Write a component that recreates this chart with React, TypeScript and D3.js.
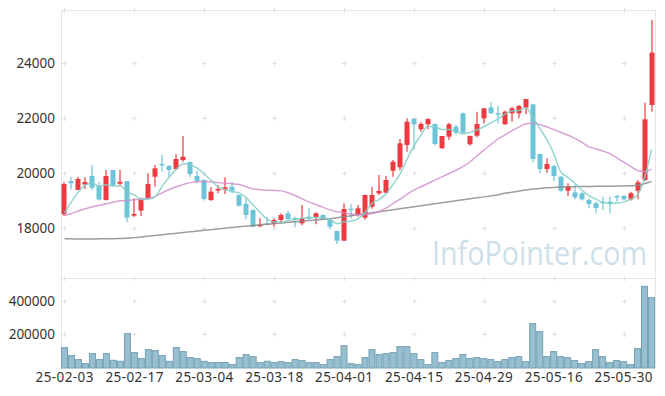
import React, { useLayoutEffect, useRef, useState } from "react";
import * as d3 from "d3";

const dates = [
  "25-02-03","25-02-04","25-02-05","25-02-06","25-02-07","25-02-10","25-02-11","25-02-12","25-02-13","25-02-14",
  "25-02-17","25-02-18","25-02-19","25-02-20","25-02-21","25-02-24","25-02-25","25-02-26","25-02-27","25-02-28",
  "25-03-04","25-03-05","25-03-06","25-03-07","25-03-10","25-03-11","25-03-12","25-03-13","25-03-14","25-03-17",
  "25-03-18","25-03-19","25-03-20","25-03-21","25-03-24","25-03-25","25-03-26","25-03-27","25-03-28","25-03-31",
  "25-04-01","25-04-02","25-04-03","25-04-04","25-04-07","25-04-08","25-04-09","25-04-10","25-04-11","25-04-14",
  "25-04-15","25-04-16","25-04-17","25-04-18","25-04-21","25-04-22","25-04-23","25-04-24","25-04-25","25-04-28",
  "25-04-29","25-04-30","25-05-02","25-05-07","25-05-08","25-05-09","25-05-12","25-05-13","25-05-14","25-05-15",
  "25-05-16","25-05-19","25-05-20","25-05-21","25-05-22","25-05-23","25-05-26","25-05-27","25-05-28","25-05-29",
  "25-05-30","25-06-02","25-06-04","25-06-05","25-06-09"
];

const open = [
  18500,19709,19382,19582,19891,19527,19018,20109,19610,19709,
  18450,18630,19080,19865,20330,20254,20145,20472,20400,19891,
  19745,19018,19380,19390,19500,19200,18873,18654,18073,18170,
  18145,18291,18534,18370,18170,18411,18389,18473,18291,17891,
  17538,18700,18473,18375,18774,19262,19283,20083,20207,21018,
  21963,21590,21770,21781,20900,21320,21683,22170,21043,21356,
  21990,22389,22180,21770,22170,22170,22374,22498,20690,20145,
  20254,19865,19356,19298,19262,19018,18898,18956,18956,19163,
  19163,19043,19356,19745,22472
];
const high = [
  19670,19865,19865,19843,20291,19670,20109,20109,20109,19709,
  19080,19100,19989,20290,20654,20290,20680,21345,20420,20083,
  19780,19480,19563,19843,19683,19220,19080,18680,18352,18411,
  18352,18534,18630,18411,18836,18716,18570,18500,18300,17900,
  18898,18872,18836,19220,19500,19927,19890,20472,21236,21989,
  21989,21850,21989,21800,21345,21830,21741,22200,21360,22229,
  22352,22570,22436,22260,22410,22472,22690,22498,20700,20534,
  20300,19880,19625,19590,19300,19080,18956,19138,19138,19200,
  19200,19320,19745,22556,25563
];
const low = [
  18440,19407,19380,19418,19382,19000,19000,19500,19550,18218,
  18400,18436,19054,19500,20047,19865,20100,20400,19850,19625,
  19000,18982,19260,19236,19260,18780,18316,18020,18025,18109,
  18047,18170,18300,18025,18100,18300,18134,18280,17950,17418,
  17538,18352,18411,18300,18700,19200,19250,19865,20100,20774,
  20836,21500,21590,21000,20880,21200,21400,21450,21000,21300,
  21800,22150,21800,21750,21865,21989,22134,20389,19989,20010,
  19720,19300,19163,19050,19000,18716,18534,18654,18534,18956,
  19000,19000,19043,19700,22229
];
const close = [
  19600,19625,19782,19673,19465,19036,19891,19563,19680,18375,
  18509,19054,19600,20171,20310,20109,20509,20590,19963,19709,
  19054,19320,19418,19480,19356,18811,18473,18047,18120,18145,
  18291,18473,18327,18340,18352,18338,18534,18316,18047,17538,
  18691,18680,18716,19200,19200,19345,19745,20410,21080,21865,
  21770,21781,21963,21054,21345,21770,21465,21465,21345,21781,
  22352,22170,22160,22229,22352,22436,22690,20509,20145,20327,
  19891,19356,19527,19116,19043,18873,18727,18898,18920,19116,
  19043,19262,19662,21952,24374
];
const volume = [
  121400,73800,50000,26000,85700,50000,85700,45800,39900,204700,
  91700,56000,109500,103500,73800,39900,121400,97600,61900,56000,
  39900,32100,32100,32100,20200,61900,79800,67800,32100,39900,
  32100,38000,32100,50000,44000,32100,32100,20200,50000,67800,
  133300,26000,20200,61900,109500,79800,85700,91700,127400,127400,
  85700,50000,20200,91700,32100,44000,56000,79800,56000,61900,
  56000,50000,38000,50000,61900,67800,38000,264300,216700,67800,
  97600,67800,61900,44000,26000,38000,109500,67800,32100,44000,
  38000,20200,115500,486300,419000
];
const ma5 = [
  18540,18956,19320,19563,19629,19516,19569,19526,19527,19309,
  19204,19036,19044,19142,19529,19849,20140,20338,20296,20176,
  19965,19727,19493,19396,19326,19277,19108,18833,18561,18319,
  18215,18215,18271,18315,18357,18366,18378,18376,18317,18155,
  18225,18254,18334,18565,18897,19028,19241,19580,19956,20489,
  20974,21381,21692,21687,21583,21583,21519,21420,21478,21565,
  21682,21823,21962,22138,22253,22269,22373,22043,21626,21221,
  20712,20046,19849,19643,19387,19183,19057,18931,18892,18907,
  18941,19048,19200,19807,20858
];
const ma20 = [
  18440,18530,18620,18700,18770,18830,18880,18940,18990,19000,
  19030,19060,19080,19150,19280,19400,19500,19580,19650,19680,
  19690,19680,19650,19630,19610,19580,19500,19420,19390,19375,
  19365,19350,19280,19180,19060,18950,18850,18750,18660,18590,
  18550,18510,18480,18490,18530,18600,18720,18890,19050,19220,
  19380,19500,19620,19740,19860,19980,20100,20230,20400,20620,
  20830,21030,21230,21380,21530,21670,21790,21810,21760,21680,
  21580,21480,21380,21260,21120,20960,20880,20800,20710,20560,
  20400,20250,20090,20050,20140
];
const ma60 = [
  17610,17605,17600,17600,17600,17605,17610,17612,17618,17625,
  17650,17677,17704,17730,17757,17783,17810,17836,17862,17889,
  17915,17941,17968,17994,18021,18047,18070,18092,18115,18137,
  18160,18182,18205,18227,18250,18272,18295,18317,18340,18376,
  18412,18448,18484,18520,18556,18592,18628,18664,18700,18736,
  18772,18808,18844,18880,18916,18952,18988,19024,19060,19096,
  19132,19168,19204,19260,19300,19340,19380,19415,19440,19460,
  19475,19488,19497,19503,19508,19512,19515,19518,19520,19524,
  19528,19536,19555,19610,19690
];
const priceTicks = [18000, 20000, 22000, 24000];
const volumeTicks = [200000, 400000];
const labelEvery = 10;
const watermark = "InfoPointer.com";

const W = 665, H = 396;
const L = 61, R = 655, T = 10, MID = 278, VB = 368;
const UP = "#ec3a40", DOWN = "#6cc4d8";
const FONT = "'Noto Sans', sans-serif";

export default function App() {
  const wmRef = useRef<SVGTextElement>(null);
  const [wmScale, setWmScale] = useState(0.87);
  useLayoutEffect(() => {
    if (wmRef.current) {
      const w = wmRef.current.getComputedTextLength();
      if (w > 0) setWmScale(215 / w);
    }
  }, []);

  const idx = dates.map((_, i) => i);
  const x = d3.scaleBand<number>().domain(idx).range([L, R]).padding(0);
  const bw = x.bandwidth();
  const cx = (i: number) => (x(i) as number) + bw / 2;
  const y = d3.scaleLinear().domain([16182, 25927]).range([MID, T]);
  const yv = d3.scaleLinear().domain([0, 536000]).range([VB, MID]);
  const tickIdx = idx.filter((i) => i % labelEvery === 0);

  const line = (arr: number[]) =>
    d3.line<number>().x((_, i) => cx(i)).y((v) => y(v)).curve(d3.curveMonotoneX)(arr) || "";

  const cross = (px: number, py: number, k: string) => (
    <g key={k} stroke="#e2e2e2" strokeWidth={1}>
      <line x1={px - 2.5} x2={px + 2.5} y1={py} y2={py} />
      <line x1={px} x2={px} y1={py - 2.5} y2={py + 2.5} />
    </g>
  );

  const bodyW = 5;

  return (
    <div style={{ position: "fixed", left: 0, top: 0 }}>
      <svg width={W} height={H} style={{ display: "block", background: "#fff" }}>
        <g stroke="#e6e6e6" strokeWidth={1} fill="none">
          <line x1={L + 0.5} x2={L + 0.5} y1={T} y2={VB} />
          <line x1={R + 0.5} x2={R + 0.5} y1={T} y2={VB} />
          <line x1={L} x2={R + 1} y1={T + 0.5} y2={T + 0.5} />
          <line x1={L} x2={R + 1} y1={MID + 0.5} y2={MID + 0.5} />
        </g>
        {tickIdx.map((i) =>
          priceTicks.map((t) => cross(Math.round(cx(i)) + 0.5, Math.round(y(t)) + 0.5, `p${i}-${t}`))
        )}
        {tickIdx.map((i) =>
          volumeTicks.map((t) => cross(Math.round(cx(i)) + 0.5, Math.round(yv(t)) + 0.5, `v${i}-${t}`))
        )}
        {tickIdx.map((i) => cross(Math.round(cx(i)) + 0.5, T + 0.5, `t${i}`))}
        {tickIdx.map((i) => cross(Math.round(cx(i)) + 0.5, MID + 0.5, `m${i}`))}

        <g transform={`translate(432,265) scale(${wmScale},1)`}>
          <text ref={wmRef} x={0} y={0} fontFamily="'Open Sans', sans-serif" fontSize={33}
            fill="#cddfe8">{watermark}</text>
        </g>

        {volume.map((v, i) => (
          <rect key={`vb${i}`} x={(x(i) as number) + 0.5} y={yv(v)} width={bw - 1}
            height={VB - yv(v)} fill="#97bfcf" stroke="#74a2b6" strokeWidth={1} />
        ))}

        {close.map((c, i) => {
          const o = open[i];
          const up = c >= o;
          const col = up ? UP : DOWN;
          const top = y(Math.max(o, c));
          const bot = y(Math.min(o, c));
          const px = Math.round(cx(i));
          return (
            <g key={`c${i}`}>
              <line x1={px} x2={px} y1={y(high[i])} y2={y(low[i])} stroke={col} strokeWidth={1.2} />
              <rect x={px - bodyW / 2} y={top} width={bodyW} height={Math.max(1.5, bot - top)} fill={col} />
            </g>
          );
        })}

        <path d={line(ma60)} fill="none" stroke="#8c8c8c" strokeOpacity={0.85} strokeWidth={1.5} />
        <path d={line(ma20)} fill="none" stroke="#cd8ccd" strokeOpacity={0.8} strokeWidth={1.5} />
        <path d={line(ma5)} fill="none" stroke="#84cfc5" strokeOpacity={0.85} strokeWidth={1.5} />

        {priceTicks.map((t) => (
          <text key={`yl${t}`} x={55} y={y(t)} dy="0.35em" textAnchor="end" fontFamily={FONT}
            fontSize={13.5} fill="#333">{t}</text>
        ))}
        {volumeTicks.map((t) => (
          <text key={`vl${t}`} x={55} y={yv(t)} dy="0.35em" textAnchor="end" fontFamily={FONT}
            fontSize={13.5} fill="#333">{t}</text>
        ))}
        {tickIdx.map((i) => (
          <text key={`xl${i}`} x={cx(i)} y={381.5} textAnchor="middle" fontFamily={FONT}
            fontSize={13.5} textLength={58} lengthAdjust="spacing" fill="#333">{dates[i]}</text>
        ))}
      </svg>
    </div>
  );
}
